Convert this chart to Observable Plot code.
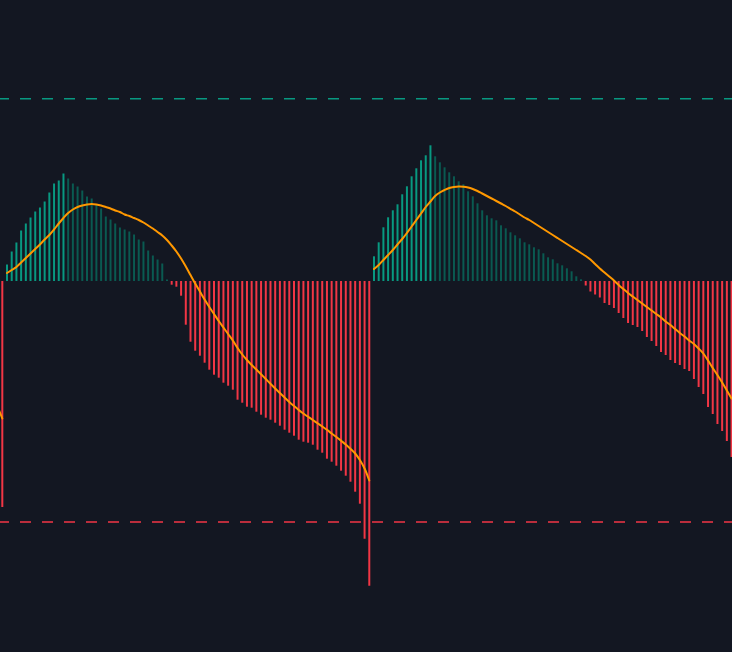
<!DOCTYPE html>
<html>
<head>
<meta charset="utf-8">
<script src="https://cdn.jsdelivr.net/npm/d3@7"></script>
<script src="https://cdn.jsdelivr.net/npm/@observablehq/plot@0.6"></script>
<style>
  html, body { margin: 0; padding: 0; background: #131722; }
  #chart { width: 732px; height: 652px; overflow: hidden; }
</style>
</head>
<body>
<div id="chart"></div>
<script>
// Histogram values, one per bar (bar index 0..155)
const histogram = [
  -226,
  16.5, 29.5, 38.5, 50.5, 57.5, 63.5, 69.5, 73.5, 79.5, 88.5, 97.5, 100.5, 107.5,
  102.5, 97.5, 94.5, 90.5, 84.5, 82.5, 76.5, 72.5, 64.5, 61.5, 57.5, 53.5, 51.5,
  49.5, 46.5, 41.5, 39.5, 30.5, 25.5, 21.5, 17.5, 1.5,
  -3.7, -5.7, -14.7, -43.7, -60.7, -69.7, -74.7, -81.7, -88.7, -93.7, -96.7,
  -101.7, -104.7, -108.7, -118.7, -121.7, -125.7, -126.7, -130.7, -133.7, -136.7,
  -138.7, -141.7, -144.7, -148.7, -151.7, -154.7, -158.7, -160.7, -161.7, -163.7,
  -168.7, -171.7, -177.7, -180.7, -184.7, -189.7, -194.7, -200.7, -210.7, -222.7,
  -257.7, -304.7,
  24.7, 38.7, 53.7, 63.7, 70.7, 76.7, 86.7, 94.7, 104.7, 112.7, 120.7, 125.7, 135.7,
  124.7, 118.7, 113.7, 108.7, 104.7, 99.7, 96.7, 89.7, 84.7, 77.7, 70.7, 65.7,
  62.7, 60.7, 55.7, 52.7, 48.7, 45.7, 42.7, 38.7, 36.7, 33.7, 31.7, 27.7, 23.7,
  21.7, 17.7, 15.7, 12.7, 9.7, 4.7, 1.7,
  -4.5, -10.5, -13.5, -16.5, -22, -24, -27, -32, -37, -42, -44, -46, -50, -56,
  -60, -65, -71, -74, -79, -82, -84, -88, -90, -98, -106, -113, -126, -133,
  -143, -150, -160, -176
];

// Signal line, split in three runs (first bar index of each run given)
const signalAStart = -1;
const signalA = [-125, -137];

const signalBStart = 1;
const signalB = [
  8.5, 11.5, 14.5, 19, 23.5, 28, 32.5, 37, 42, 46.5, 52, 58, 63.5, 68.5, 72, 74.5, 76,
  77, 77.5, 77, 76, 74.5, 73, 71, 69.5, 67, 65.5, 63.5, 61.5, 59, 56, 53, 49.5, 46,
  41.5, 36, 30, 23, 15, 6.5, -2, -10, -18, -25.5, -32.5, -39.5, -46, -52.5,
  -59, -66.5, -73, -78.5, -83.5, -88, -92.8, -97.5, -102.3, -107, -111.5, -116,
  -120.5, -124.5, -128.5, -132, -135.3, -138.5, -141.8, -145, -148.3, -152, -155.5,
  -159.2, -163, -167.3, -172, -178.5, -187, -199
];

const signalCStart = 79;
const signalC = [
  12.5, 16.5, 21.5, 26.5, 31.5, 37, 42.5, 48.5, 55, 61.5, 68, 74.5, 80, 85.5, 89, 91.5, 93.5,
  94.5, 95, 94.8, 94, 92.5, 90.5, 88, 85.5, 83, 80.5, 78, 75.5, 72.7, 70, 67, 64,
  61.5, 58.5, 55.5, 52.5, 49.5, 46.5, 43.5, 40.5, 37.5, 34.5, 31.5, 28.5, 25.5, 22, 17.5, 13, 9, 5, 1,
  -3.5, -7.5, -11.5, -15, -18.5, -22, -25.5, -29, -32.5, -36, -40, -43.5, -47.5,
  -51.5, -55, -59, -62.5, -67, -72, -79, -86.5, -93.5, -101, -109, -117
];

// Band levels
const upperLevel = 182.7;
const lowerLevel = -240.5;

// Colours
const growColor = "#089981";
const fadeColor = "#0a5a51";
const downColor = "#f23645";
const signalColor = "#ff9800";

const bars = histogram.map((v, i) => ({
  i, v,
  color: v < 0 ? downColor : (i > 0 && v <= histogram[i - 1] ? fadeColor : growColor)
}));
const toRun = (start, arr, run) => arr.map((v, j) => ({ i: start + j, v, run }));
const signal = [
  ...toRun(signalAStart, signalA, "a"),
  ...toRun(signalBStart, signalB, "b"),
  ...toRun(signalCStart, signalC, "c")
];

const chart = Plot.plot({
  width: 732,
  height: 652,
  margin: 0,
  style: { background: "#131722" },
  x: { domain: [-0.383, 155.2], axis: null },
  y: { domain: [-371, 281], axis: null },
  marks: [
    Plot.ruleY([upperLevel], { stroke: growColor, strokeWidth: 1.5, strokeDasharray: "11,11", strokeDashoffset: 2 }),
    Plot.ruleY([lowerLevel], { stroke: downColor, strokeWidth: 1.5, strokeDasharray: "11,11", strokeDashoffset: 2 }),
    Plot.ruleX(bars, { x: "i", y1: 0, y2: "v", stroke: "color", strokeWidth: 2 }),
    Plot.line(signal, { x: "i", y: "v", z: "run", stroke: signalColor, strokeWidth: 2, curve: "catmull-rom", clip: true })
  ]
});
document.getElementById("chart").appendChild(chart);
</script>
</body>
</html>
